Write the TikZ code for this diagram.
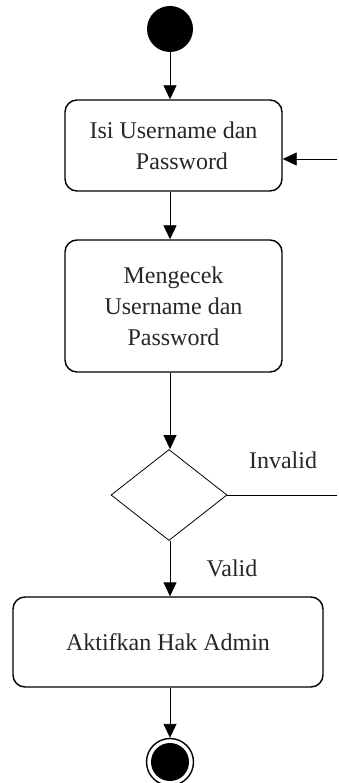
\documentclass[tikz,border=0pt]{standalone}
\usepackage{fontspec}
\setmainfont{Liberation Serif}
\usetikzlibrary{shapes.geometric,arrows.meta}

\begin{document}
\begin{tikzpicture}[x=1pt,y=-1pt,
  every node/.style={font=\fontsize{24}{31}\selectfont, text=black!85},
  actbox/.style={draw, line width=1.4pt, rounded corners=12pt, align=center, inner sep=0pt},
  flow/.style={line width=0.9pt, -{Triangle[length=14pt,width=13pt]}},
  plain/.style={line width=0.9pt},
  lbl/.style={inner sep=0pt}
]
\useasboundingbox (0,0) rectangle (338,783);

% initial and final states
\node[circle, fill=black, minimum size=46pt, inner sep=0pt] (start) at (170,29) {};
\node[circle, draw, line width=1.4pt, minimum size=47pt, inner sep=0pt] (stopring) at (170,762) {};
\node[circle, fill=black, minimum size=38pt, inner sep=0pt] (stop) at (170,762) {};

% activities
\node[actbox, minimum width=217pt, minimum height=91pt] (b1) at (173.5,145.5)
  {Isi Username dan\\\hspace*{17pt}Password};
\node[actbox, minimum width=217pt, minimum height=132pt] (b2) at (173.5,306)
  {Mengecek\\Username dan\\Password};
\node[diamond, draw, line width=0.8pt, aspect=1.275, minimum width=116pt, minimum height=91pt, inner sep=0pt] (dia) at (169,495) {};
\node[actbox, minimum width=310pt, minimum height=90pt] (b3) at (168,642)
  {Aktifkan Hak Admin};

% loose ends of the loop back
\coordinate (loopin) at (337,159);
\coordinate (loopout) at (337,495);

% guard labels
\node[lbl] (inv) at (283,460) {Invalid};
\node[lbl] (val) at (232,568) {Valid};

% connectors
\draw[flow] (start.south) -- (start.south |- b1.north);
\draw[flow] (loopin) -- (b1.east |- loopin);
\draw[flow] (b1.south -| start) -- (b2.north -| start);
\draw[flow] (b2.south -| start) -- (start |- dia.north);
\draw[plain] (dia.east) -- (loopout);
\draw[flow] (start |- dia.south) -- (start |- b3.north);
\draw[flow] (start |- b3.south) -- (stopring.north);
\end{tikzpicture}
\end{document}
